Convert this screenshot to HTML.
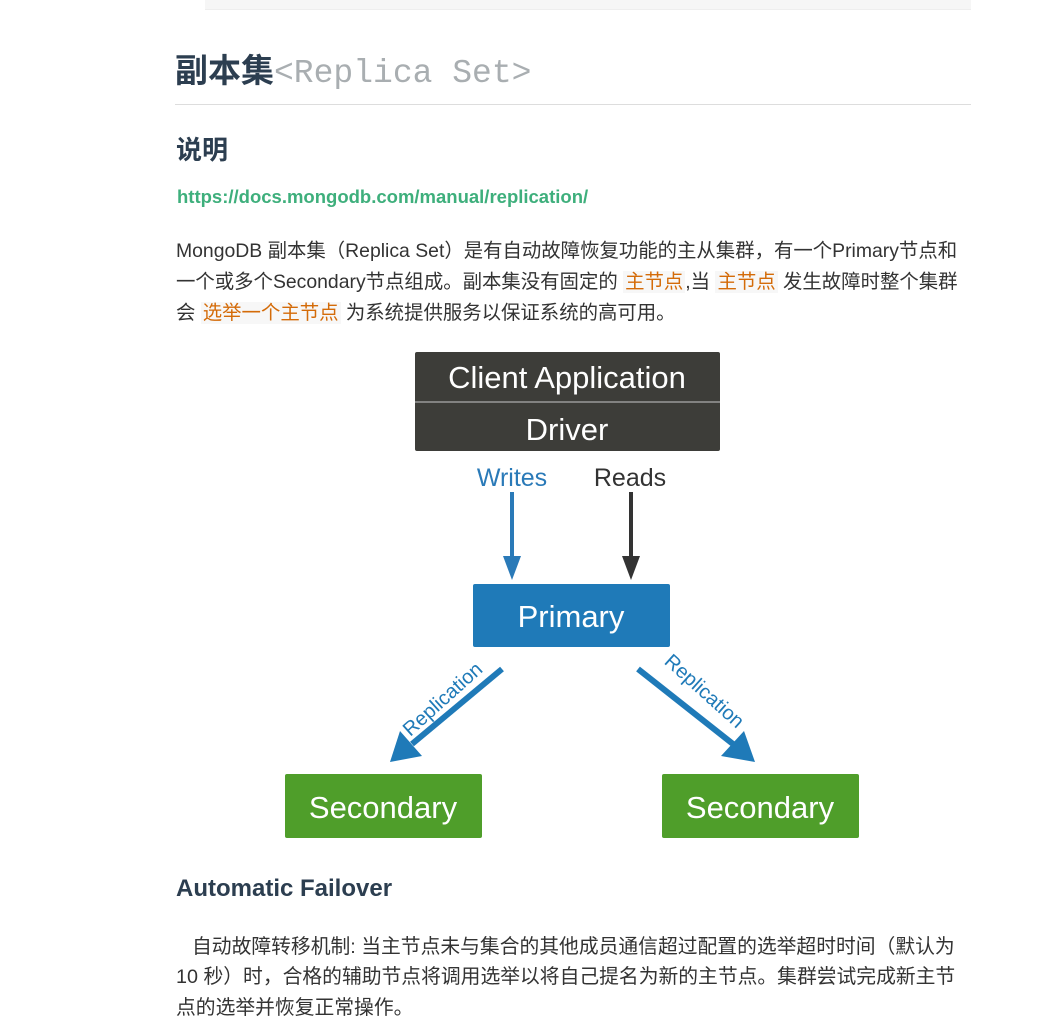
<!DOCTYPE html>
<html><head><meta charset="utf-8"><style>
body{margin:0;width:1039px;height:1030px;background:#fff;position:relative;overflow:hidden;font-family:"Liberation Sans","Noto Sans CJK SC",sans-serif;color:#333}
.a{position:absolute;white-space:nowrap}
.p{font-size:19.4px;color:#333;left:176px}
.q{font-size:19.8px;color:#333;left:176px}
.hl{color:#d46b08;background:#f7f7f7;padding:0 2px}
</style></head><body>
<div class="a" style="left:205px;top:0;width:766px;height:9px;background:#f6f6f6;border-bottom:1px solid #eee"></div>
<div class="a" style="left:175px;top:44px;font-size:33px;font-weight:bold;color:#2c3e50">副本集<span style="font-family:'Liberation Mono',monospace;font-weight:normal;color:#a9aeb1;font-size:33px">&lt;Replica Set&gt;</span></div>
<div class="a" style="left:175px;top:104px;width:796px;height:1px;background:#ddd"></div>
<div class="a" style="left:176px;top:130px;font-size:26px;font-weight:bold;color:#2c3e50">说明</div>
<div class="a" style="left:177px;top:186px;font-size:18.5px;color:#3eaf7c;font-weight:bold">https://docs.mongodb.com/manual/replication/</div>
<div class="a p" style="top:234px">MongoDB 副本集（Replica Set）是有自动故障恢复功能的主从集群，有一个Primary节点和</div>
<div class="a p" style="top:265px">一个或多个Secondary节点组成。副本集没有固定的 <span class="hl">主节点</span>,当 <span class="hl">主节点</span> 发生故障时整个集群</div>
<div class="a p" style="top:296px">会 <span class="hl">选举一个主节点</span> 为系统提供服务以保证系统的高可用。</div>
<svg class="a" style="left:0;top:0" width="1039" height="1030">
<rect x="415" y="352" width="305" height="99" rx="2" fill="#3d3d39"/>
<line x1="415" y1="402" x2="720" y2="402" stroke="#999" stroke-width="1.5"/>
<text x="567" y="388" font-size="31" fill="#fff" text-anchor="middle" font-family="Liberation Sans">Client Application</text>
<text x="567" y="440" font-size="31" fill="#fff" text-anchor="middle" font-family="Liberation Sans">Driver</text>
<text x="512" y="486" font-size="25" fill="#2a7ab8" text-anchor="middle">Writes</text>
<text x="630" y="486" font-size="25" fill="#333" text-anchor="middle">Reads</text>
<rect x="510" y="492" width="4" height="66" fill="#2a7ab8"/>
<polygon points="503,556 521,556 512,580" fill="#2a7ab8"/>
<rect x="629" y="492" width="4" height="66" fill="#333"/>
<polygon points="622,556 640,556 631,580" fill="#333"/>
<rect x="473" y="584" width="197" height="63" rx="2" fill="#1f7ab8"/>
<text x="571" y="627" font-size="31" fill="#fff" text-anchor="middle">Primary</text>
<rect x="285" y="774" width="197" height="64" rx="2" fill="#4f9e2a"/>
<text x="383" y="818" font-size="31" fill="#fff" text-anchor="middle">Secondary</text>
<rect x="662" y="774" width="197" height="64" rx="2" fill="#4f9e2a"/>
<text x="760" y="818" font-size="31" fill="#fff" text-anchor="middle">Secondary</text>
<line x1="502" y1="669" x2="412" y2="744" stroke="#1f7ab8" stroke-width="6"/>
<polygon points="390,762 400,731 422,756" fill="#1f7ab8"/>
<line x1="638" y1="669" x2="733" y2="744" stroke="#1f7ab8" stroke-width="6"/>
<polygon points="755,762 721,756 744,731" fill="#1f7ab8"/>
<text transform="translate(447,704) rotate(-42)" font-size="20" fill="#1f7ab8" text-anchor="middle">Replication</text>
<text transform="translate(700,696) rotate(42)" font-size="20" fill="#1f7ab8" text-anchor="middle">Replication</text>
</svg>
<div class="a" style="left:176px;top:875px;font-size:24px;font-weight:bold;color:#2c3e50">Automatic Failover</div>
<div class="a q" style="top:930px;left:192px">自动故障转移机制: 当主节点未与集合的其他成员通信超过配置的选举超时时间（默认为</div>
<div class="a q" style="top:960px">10 秒）时，合格的辅助节点将调用选举以将自己提名为新的主节点。集群尝试完成新主节</div>
<div class="a q" style="top:991px">点的选举并恢复正常操作。</div>
</body></html>
